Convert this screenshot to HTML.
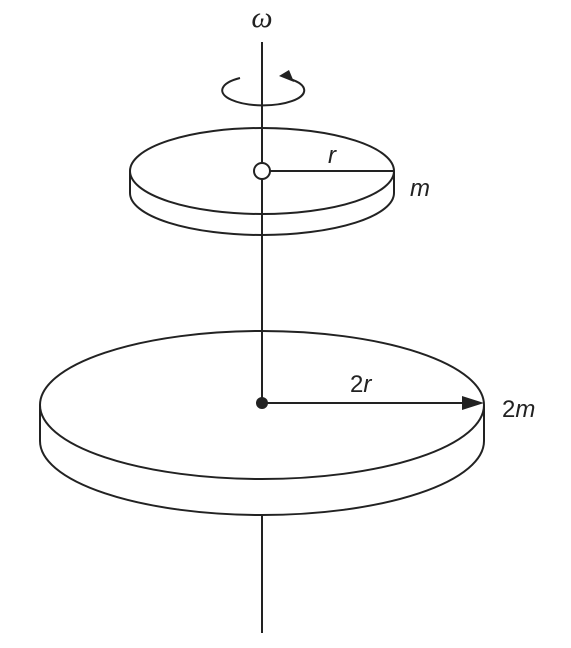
<!DOCTYPE html>
<html><head><meta charset="utf-8"><style>html,body{margin:0;padding:0;background:#fff}svg{display:block}text{font-family:"Liberation Sans",sans-serif;fill:#222}</style></head>
<body>
<svg width="571" height="648" viewBox="0 0 571 648">
<g stroke="#222" stroke-width="2" fill="none">
  <line x1="262" y1="42" x2="262" y2="633"/>
  <path d="M240,78 A41,15 0 1,0 290,79"/>
  <g>
    <path d="M130,171 L130,193 A132,42 0 0,0 394,193 L394,171" fill="#fff"/>
    <ellipse cx="262" cy="171" rx="132" ry="43" fill="#fff"/>
    <line x1="262" y1="128" x2="262" y2="236"/>
    <line x1="262" y1="171" x2="394" y2="171"/>
    <circle cx="262" cy="171" r="8" fill="#fff"/>
  </g>
  <g>
    <path d="M40,405 L40,441 A222,74 0 0,0 484,441 L484,405" fill="#fff"/>
    <ellipse cx="262" cy="405" rx="222" ry="74" fill="#fff"/>
    <line x1="262" y1="330" x2="262" y2="405"/>
    <line x1="262" y1="515" x2="262" y2="633"/>
    <line x1="262" y1="403" x2="462" y2="403"/>
  </g>
</g>
<polygon points="294,82 279,76 289,70" fill="#222"/>
<polygon points="484,403 462,396 462,410" fill="#222"/>
<circle cx="262" cy="403" r="6" fill="#222"/>
<text x="262" y="27" font-size="30" font-style="italic" text-anchor="middle" style="font-family:'Liberation Serif',serif">ω</text>
<text x="328" y="163" font-size="24" font-style="italic">r</text>
<text x="410" y="196" font-size="24" font-style="italic">m</text>
<text x="350" y="392" font-size="24">2<tspan font-style="italic">r</tspan></text>
<text x="502" y="417" font-size="24">2<tspan font-style="italic">m</tspan></text>
</svg>
</body></html>
